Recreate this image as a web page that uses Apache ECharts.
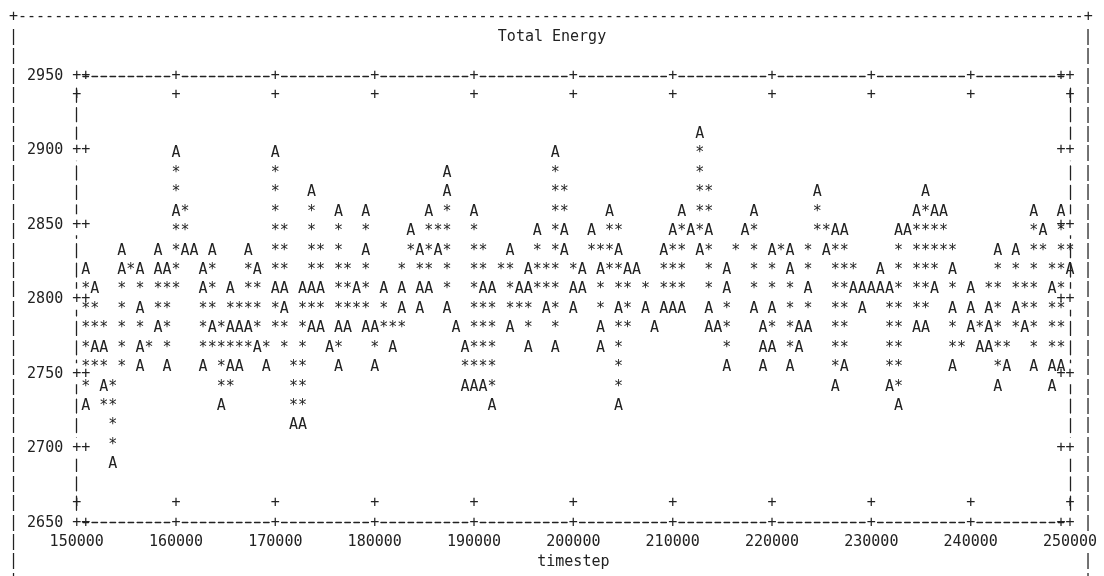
<!DOCTYPE html>
<html>
<head>
<meta charset="utf-8">
<script src="https://cdn.jsdelivr.net/npm/echarts@6/dist/echarts.min.js"></script>
<style>
html,body{margin:0;padding:0;background:#fff;}
#chart{width:1104px;height:576px;}
</style>
</head>
<body>
<div id="chart"></div>
<script>
// ---- data (timestep, total energy) ----
const timestep = [
150700,151100,151600,152000,152500,152900,153600,154300,154700,
156100,156300,156500,156700,157900,158200,158500,158900,159300,159800,160200,
160900,161800,162400,162700,163000,163400,163800,164500,165200,165500,165800,
166200,166600,167100,167500,168000,168400,169100,169800,170200,170700,171100,
171800,172500,172900,173300,173600,173900,174300,174700,175500,176100,176400,176700,
177300,178200,178800,179100,179400,179800,180200,180900,181800,182500,182900,
183600,184200,184500,184800,185300,185700,186400,187000,187300,187600,188200,
188900,189300,189800,190200,190700,191100,191600,192000,193400,193800,194500,
195200,195500,195800,196400,197300,198000,198400,198900,199300,199800,200200,
200700,201100,201800,202400,202700,203000,203600,204200,204500,204800,205500,
206400,207300,208200,208900,209300,209800,210200,210700,211100,211800,
212500,212900,213300,213600,213900,214500,215200,215500,215800,217300,
218000,218400,218800,219100,219400,219700,220000,220300,221500,221800,222100,
222500,222900,223400,223800,224500,225500,226200,226600,227100,227500,228200,
228900,229300,230000,230700,231100,231600,232000,232500,232900,233600,
234300,234700,235300,235700,236200,236600,237300,237900,238200,238500,
239700,240000,240300,240900,241500,241800,242100,242500,242900,243600,
244300,244700,245500,246200,246600,247300,247900,248200,248500,248900,249300,250000
];
const energy = [
2820,2728,2767,2807,2767,2741,2689,2820,2833,
2820,2793,2767,2754,2780,2820,2833,2820,2754,2859,2898,
2833,2833,2820,2807,2754,2780,2833,2728,2754,2780,2807,
2780,2754,2780,2833,2820,2767,2754,2807,2898,2807,2793,
2715,2715,2807,2780,2807,2872,2807,2780,2767,2754,2780,2859,
2780,2807,2833,2859,2780,2780,2754,2807,2767,2793,2807,
2846,2833,2807,2793,2807,2859,2833,2872,2885,2793,2780,
2767,2741,2741,2859,2807,2741,2728,2807,2833,2780,2807,
2807,2820,2767,2846,2793,2767,2898,2846,2833,2807,2793,
2807,2820,2846,2820,2780,2767,2859,2833,2793,2728,2820,
2820,2793,2780,2793,2833,2846,2793,2793,2859,2846,
2833,2911,2846,2793,2780,2780,2754,2807,2820,2846,
2859,2793,2780,2767,2754,2767,2793,2833,2833,2820,2754,
2767,2780,2780,2807,2872,2833,2846,2741,2754,2846,2807,
2807,2793,2807,2807,2820,2807,2741,2728,2846,2846,
2859,2780,2780,2872,2859,2807,2859,2820,2793,2754,
2780,2793,2807,2767,2767,2780,2793,2833,2741,2754,
2793,2833,2780,2754,2859,2846,2807,2754,2741,2754,2859,2820
];
const xTicks = [150000,160000,170000,180000,190000,200000,210000,220000,230000,240000,250000];
const yTicks = [2650,2700,2750,2800,2850,2900,2950];
const chartTitle = 'Total Energy';
const xName = 'timestep';

// ---- character-grid layout (dumb terminal look) ----
const FAMILY = '"DejaVu Sans Mono", monospace';
const FS = 15;
const FONT = FS + 'px ' + FAMILY;
const CW = 9.03;     // character cell width
const RH = 19.43;    // character cell height
const G = {left: 76.7, top: 75.8, width: 993.3, height: 446.9};
const ROW0 = G.top - 3 * RH;
const INK = '#222';

function glyph(ch, x, y, bg) {
  const s = {text: ch, x: x, y: y, font: FONT, fill: INK,
    align: 'center', verticalAlign: 'middle', textAlign: 'center', textVerticalAlign: 'middle'};
  if (bg) { s.backgroundColor = '#fff'; s.padding = [3, 0]; }
  return {type: 'text', silent: true, style: s};
}
function cellOf(p) { return [Math.round((p[0] - G.left) / CW), Math.round((p[1] - G.top) / RH)]; }
function cellXY(c) { return [G.left + c[0] * CW, G.top + c[1] * RH]; }

const points = timestep.map((t, i) => [t, energy[i]]);
let pointCells = null, drawnCells = null;
function prepareCells(api) {
  pointCells = new Set();
  drawnCells = new Set();
  for (let i = 0; i < timestep.length; i++) {
    const c = cellOf(api.coord([timestep[i], energy[i]]));
    pointCells.add(c[0] + ',' + c[1]);
  }
}

const frame = [];
frame.push({type: 'text', x: G.left - 7 * CW - CW / 2, y: ROW0, silent: true,
  style: {text: '+' + '-'.repeat(118) + '+', font: FONT, fill: INK,
    align: 'left', verticalAlign: 'middle', textAlign: 'left', textVerticalAlign: 'middle'}});
for (let r = 1; r <= 29; r++) {
  const y = ROW0 + r * RH;
  frame.push(glyph('|', G.left - 7 * CW, y));
  if (r !== 27) frame.push(glyph('|', G.left + 112 * CW, y));
}

const axisText = {fontFamily: FAMILY, fontSize: FS, color: INK};
const hLine = {show: true, onZero: false, lineStyle: {color: INK, width: 1.4, type: [5.5, 3.53], dashOffset: 2.75}};
const vLine = {show: true, onZero: false, lineStyle: {color: INK, width: 1.3, type: [14, 5.43], dashOffset: 7}};

const option = {
  backgroundColor: '#fff',
  animation: false,
  title: {text: chartTitle, left: 'center', top: 29.5, padding: 0,
    textStyle: {fontFamily: FAMILY, fontSize: FS, fontWeight: 'normal', color: INK}},
  grid: {left: G.left, top: G.top, width: G.width, height: G.height, containLabel: false, outerBoundsMode: 'none'},
  xAxis: [
    {type: 'value', position: 'bottom', min: xTicks[0], max: xTicks[xTicks.length - 1], interval: 10000,
      name: xName, nameLocation: 'middle', nameGap: 31, nameTextStyle: axisText,
      axisLine: hLine, axisTick: {show: false}, splitLine: {show: false},
      axisLabel: Object.assign({margin: 12, showMinLabel: true, showMaxLabel: true, hideOverlap: false,
        formatter: v => String(v)}, axisText)},
    {type: 'value', position: 'top', min: xTicks[0], max: xTicks[xTicks.length - 1], interval: 10000,
      axisLine: hLine, axisTick: {show: false}, splitLine: {show: false}, axisLabel: {show: false}}
  ],
  yAxis: [
    {type: 'value', position: 'left', min: yTicks[0], max: yTicks[yTicks.length - 1], interval: 50,
      axisLine: vLine, axisTick: {show: false}, splitLine: {show: false},
      axisLabel: Object.assign({margin: 13.5, showMinLabel: true, showMaxLabel: true,
        formatter: v => String(v)}, axisText)},
    {type: 'value', position: 'right', min: yTicks[0], max: yTicks[yTicks.length - 1], interval: 50,
      axisLine: vLine, axisTick: {show: false}, splitLine: {show: false}, axisLabel: {show: false}}
  ],
  graphic: frame,
  series: [
    { // '*' connecting strokes between consecutive samples
      name: 'line', type: 'custom', silent: true, clip: false, z: 3,
      data: points, encode: {x: 0, y: 1},
      renderItem: function (params, api) {
        const i = params.dataIndex;
        if (i === 0 || !pointCells) prepareCells(api);
        if (i === 0) return {type: 'group', children: []};
        const a = cellOf(api.coord([timestep[i - 1], energy[i - 1]]));
        const b = cellOf(api.coord([api.value(0), api.value(1)]));
        const dc = b[0] - a[0], dr = b[1] - a[1];
        const n = Math.max(Math.abs(dc), Math.abs(dr));
        const kids = [];
        for (let k = 1; k < n; k++) {
          const c = [Math.round(a[0] + dc * k / n), Math.round(a[1] + dr * k / n)];
          const key = c[0] + ',' + c[1];
          if (pointCells.has(key) || drawnCells.has(key)) continue;
          drawnCells.add(key);
          const xy = cellXY(c);
          kids.push(glyph('*', xy[0], xy[1]));
        }
        return {type: 'group', children: kids};
      }
    },
    { // 'A' point markers
      name: 'Total Energy', type: 'custom', silent: true, clip: false, z: 4,
      data: points, encode: {x: 0, y: 1},
      renderItem: function (params, api) {
        const xy = cellXY(cellOf(api.coord([api.value(0), api.value(1)])));
        return glyph('A', xy[0], xy[1]);
      }
    },
    { // x tick marks '+'
      name: 'xticks', type: 'custom', silent: true, clip: false, z: 5,
      data: xTicks.map(v => [v, yTicks[0]]), encode: {x: 0, y: 1},
      renderItem: function (params, api) {
        const v = api.value(0);
        const bot = api.coord([v, yTicks[0]]);
        const top = api.coord([v, yTicks[yTicks.length - 1]]);
        return {type: 'group', children: [
          glyph('+', bot[0], bot[1], true), glyph('+', bot[0], bot[1] - RH),
          glyph('+', top[0], top[1], true), glyph('+', top[0], top[1] + RH)
        ]};
      }
    },
    { // y tick marks '++'
      name: 'yticks', type: 'custom', silent: true, clip: false, z: 5,
      data: yTicks.map(v => [xTicks[0], v]), encode: {x: 0, y: 1},
      renderItem: function (params, api) {
        const v = api.value(1);
        const l = api.coord([xTicks[0], v]);
        const r = api.coord([xTicks[xTicks.length - 1], v]);
        return {type: 'group', children: [
          glyph('+', l[0], l[1], true), glyph('+', l[0] + CW, l[1]),
          glyph('+', r[0], r[1], true), glyph('+', r[0] - CW, r[1])
        ]};
      }
    }
  ]
};
const chart = echarts.init(document.getElementById('chart'), null, {renderer: 'canvas'});
chart.setOption(option);
</script>
</body>
</html>
